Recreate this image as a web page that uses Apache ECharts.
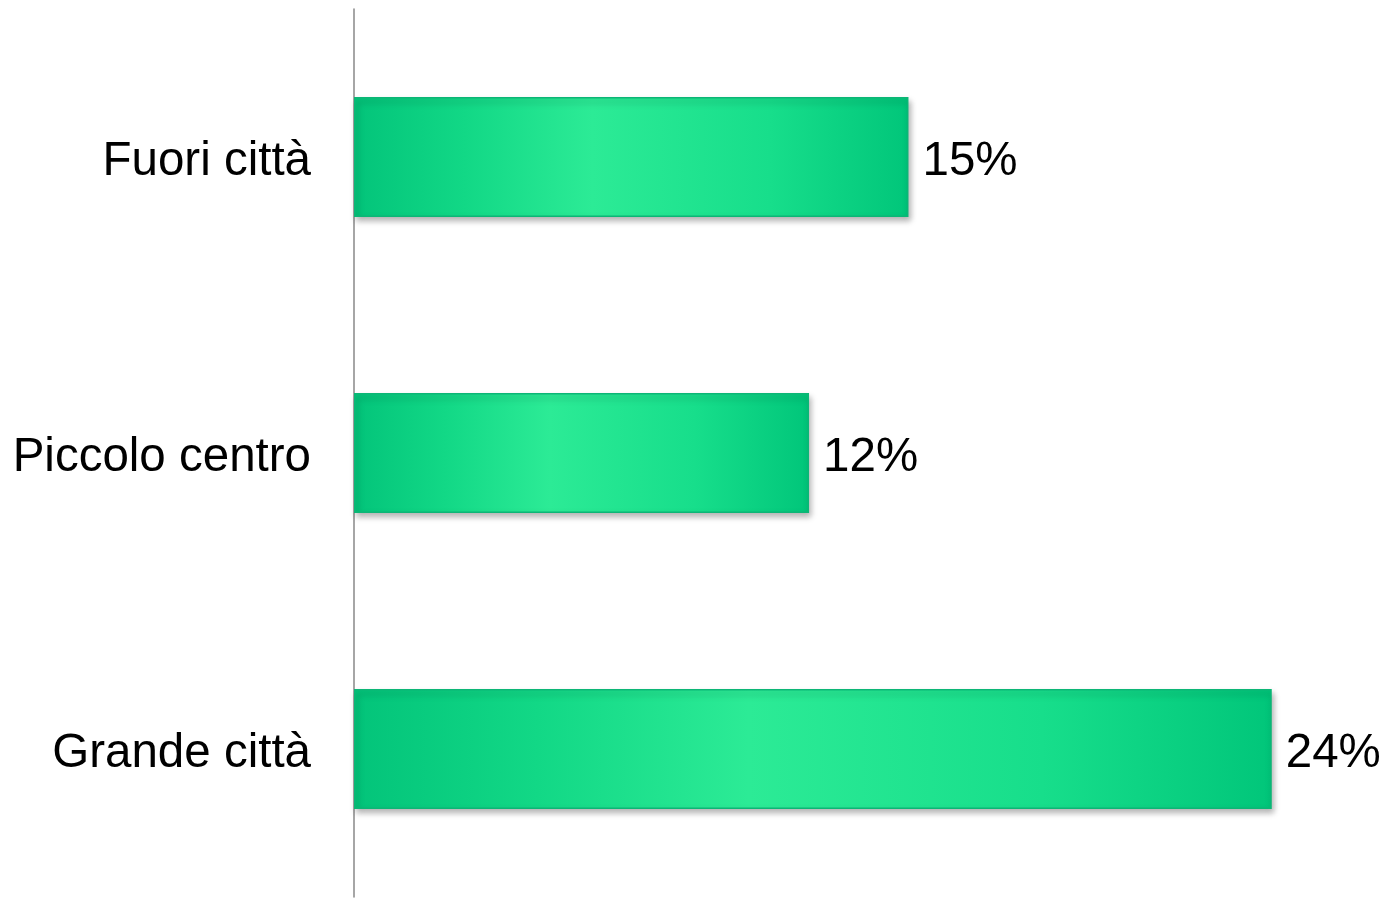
<!DOCTYPE html>
<html>
<head>
<meta charset="utf-8">
<script src="https://cdn.jsdelivr.net/npm/echarts@6/dist/echarts.min.js"></script>
<style>
html,body{margin:0;padding:0;background:#fff;}
#chart{width:1392px;height:898px;}
</style>
</head>
<body>
<div id="chart"></div>
<script>
var categories = ['Grande città', 'Piccolo centro', 'Fuori città'];
var values = [24.0, 11.9, 14.5];
var valueLabels = ['24%', '12%', '15%'];

var chart = echarts.init(document.getElementById('chart'));
var grad = new echarts.graphic.LinearGradient(0, 0, 1, 0, [
  {offset: 0, color: '#03c47a'},
  {offset: 0.2, color: '#12d886'},
  {offset: 0.43, color: '#2ceb96'},
  {offset: 0.75, color: '#17de8b'},
  {offset: 1, color: '#01c67a'}
]);
chart.setOption({
  animation: false,
  grid: {left: 354, right: 82, top: 9, bottom: 1, containLabel: false},
  xAxis: {
    type: 'value', min: 0, max: 25, show: false
  },
  yAxis: {
    type: 'category', data: categories,
    axisLine: {show: true, lineStyle: {color: '#888', width: 1.5}},
    axisTick: {show: false},
    axisLabel: {
      color: '#000', margin: 43,
      formatter: function(v){ return '{a|' + v + '}'; },
      rich: {a: {fontFamily: 'Liberation Sans', fontSize: 47.5, color: '#000', padding: [10, 0, 0, 0]}}
    }
  },
  series: [{
    type: 'bar',
    data: values,
    barWidth: 120,
    itemStyle: {
      color: grad,
      borderColor: '#0cb676',
      borderWidth: 1.5,
      shadowColor: 'rgba(0,0,0,0.3)',
      shadowBlur: 6,
      shadowOffsetX: 2,
      shadowOffsetY: 4
    },
    label: {
      show: true, position: 'right', distance: 14, offset: [0, 5],
      fontFamily: 'Liberation Sans', fontSize: 47.5, color: '#000',
      formatter: function(p){ return valueLabels[p.dataIndex]; }
    }
  }]
});
</script>
</body>
</html>
